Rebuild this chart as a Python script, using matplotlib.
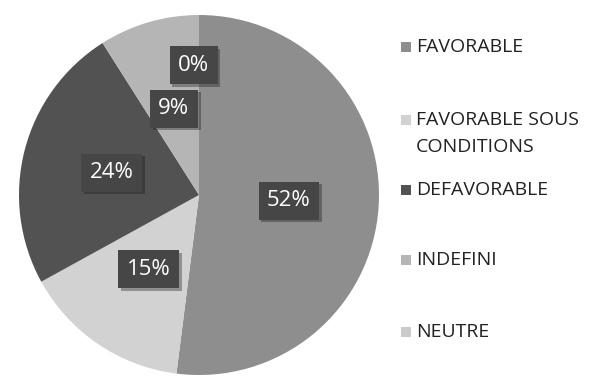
import matplotlib.pyplot as plt
import matplotlib.patches as patches
import matplotlib.patheffects as pe

labels = ["FAVORABLE", "FAVORABLE SOUS\nCONDITIONS", "DEFAVORABLE", "INDEFINI", "NEUTRE"]
values = [52, 15, 24, 9, 0]
colors = ["#8e8e8e", "#d2d2d2", "#525252", "#b5b5b5", "#cacaca"]

W, H = 596, 382
fig = plt.figure(figsize=(W / 100, H / 100), dpi=100)

# pie area: centre (199, 195) px, radius 180 px
cx, cy, r = 199, 195, 180
ax = fig.add_axes([(cx - r) / W, (H - cy - r) / H, 2 * r / W, 2 * r / H])

wedges, texts, autotexts = ax.pie(
    values, colors=colors, startangle=90, counterclock=False,
    autopct=lambda p: f"{p:.0f}%", pctdistance=0.5,
    wedgeprops=dict(linewidth=0),
    textprops=dict(color="white", fontsize=16, family="Open Sans"),
)
ax.set_xlim(-1, 1)
ax.set_ylim(-1, 1)
ax.set_aspect("equal")
ax.axis("off")

for t, v in zip(autotexts, values):
    t.set_bbox(dict(boxstyle="square,pad=0.38", fc="#464646", ec="none"))
    t.get_bbox_patch().set_path_effects(
        [pe.SimplePatchShadow(offset=(2, -2), alpha=0.35), pe.Normal()])
    if v == 0:
        # empty slice label pushed outward so it does not sit on the 9% box
        x, y = t.get_position()
        t.set_position((x - 0.03, 0.72))

# legend drawn entry by entry
rows = [47, 120, 190, 260, 332]
for lab, col, y in zip(labels, colors, rows):
    fig.patches.append(patches.Rectangle(
        (401 / W, 1 - (y + 5) / H), 10 / W, 10 / H,
        transform=fig.transFigure, fc=col, ec="none"))
    for i, line in enumerate(lab.split("\n")):
        fig.text(416 / W, 1 - (y + 27 * i) / H, line, va="center", ha="left",
                 fontsize=14, color="#222222", family="Open Sans")

fig.savefig("out.png", dpi=100)
